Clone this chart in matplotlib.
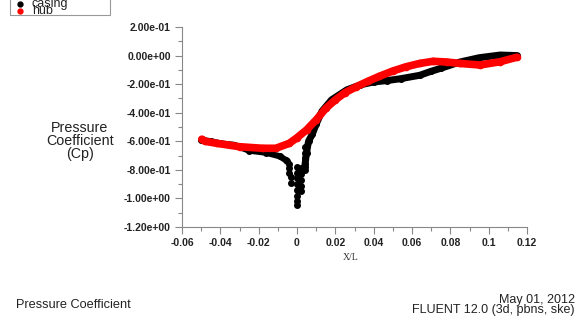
import matplotlib
matplotlib.use("Agg")
import matplotlib.pyplot as plt
from matplotlib.patches import Rectangle
from matplotlib.ticker import MultipleLocator

# ---- data ----
series_names = ["casing", "hub"]

casing_x = [-0.050, -0.045, -0.040, -0.033, -0.025, -0.016, -0.009, -0.006]
casing_y = [-0.590, -0.600, -0.615, -0.625, -0.665, -0.680, -0.705, -0.730]

casing_rise_x = [0.004, 0.005, 0.006, 0.008, 0.010, 0.013, 0.018, 0.026, 0.033,
                 0.040, 0.047, 0.054, 0.064, 0.070, 0.075, 0.085, 0.095, 0.106, 0.115]
casing_rise_y = [-0.780, -0.680, -0.600, -0.550, -0.480, -0.390, -0.310, -0.240, -0.205,
                 -0.185, -0.175, -0.162, -0.138, -0.110, -0.089, -0.045, -0.015, 0.004, 0.000]

casing_dip_x = [-0.005, -0.004, -0.004, -0.004, -0.003, -0.003,
                0.000, 0.000, 0.000, 0.000, 0.000, 0.000, 0.000, 0.000,
                0.002, 0.002, 0.002, 0.002, 0.002,
                0.004, 0.004, 0.004, 0.004, 0.004]
casing_dip_y = [-0.740, -0.760, -0.790, -0.820, -0.850, -0.890,
                -0.780, -0.820, -0.860, -0.900, -0.940, -0.980, -1.020, -1.045,
                -0.790, -0.830, -0.870, -0.910, -0.950,
                -0.640, -0.680, -0.720, -0.760, -0.800]

hub_x = [-0.0497, -0.048, -0.042, -0.030, -0.018, -0.011, -0.004, 0.000, 0.005, 0.010,
         0.015, 0.020, 0.025, 0.031, 0.037, 0.043, 0.050, 0.057, 0.064, 0.071,
         0.078, 0.085, 0.0955, 0.106, 0.1146]
hub_y = [-0.586, -0.600, -0.614, -0.638, -0.649, -0.649, -0.614, -0.575, -0.520, -0.450,
         -0.370, -0.310, -0.260, -0.218, -0.180, -0.145, -0.108, -0.078, -0.055, -0.040,
         -0.045, -0.055, -0.066, -0.043, -0.012]

x_ticks = [-0.06, -0.04, -0.02, 0, 0.02, 0.04, 0.06, 0.08, 0.1, 0.12]
x_tick_labels = ["-0.06", "-0.04", "-0.02", "0", "0.02", "0.04", "0.06", "0.08", "0.1", "0.12"]
y_ticks = [-1.2, -1.0, -0.8, -0.6, -0.4, -0.2, 0.0, 0.2]
y_tick_labels = ["-1.20e+00", "-1.00e+00", "-8.00e-01", "-6.00e-01", "-4.00e-01",
                 "-2.00e-01", "0.00e+00", "2.00e-01"]

colors = {"casing": "#000000", "hub": "#ff0000"}

# ---- figure ----
W, H = 580, 324
fig = plt.figure(figsize=(W / 100, H / 100), dpi=100)
ax = fig.add_axes([182 / W, 1 - 227 / H, (527 - 182) / W, (227 - 27) / H])

sans = "Liberation Sans"

# casing
ax.plot(casing_x, casing_y, color=colors["casing"], lw=4.5, solid_capstyle="round",
        marker="o", ms=4, zorder=2)
ax.plot(casing_rise_x, casing_rise_y, color=colors["casing"], lw=5, solid_capstyle="round",
        marker="o", ms=4, zorder=2)
ax.plot(casing_dip_x, casing_dip_y, ls="none", color=colors["casing"], marker="o", ms=4,
        zorder=2)
# hub
ax.plot(hub_x, hub_y, color=colors["hub"], lw=5.5, solid_capstyle="round",
        marker="o", ms=4.5, zorder=3)

ax.set_xlim(-0.06, 0.12)
ax.set_ylim(-1.2, 0.2)
ax.set_xticks(x_ticks)
ax.set_xticklabels(x_tick_labels)
ax.set_yticks(y_ticks)
ax.set_yticklabels(y_tick_labels)
ax.xaxis.set_minor_locator(MultipleLocator(0.01))
ax.yaxis.set_minor_locator(MultipleLocator(0.1))

for s in ["top", "right"]:
    ax.spines[s].set_visible(False)
for s in ["left", "bottom"]:
    ax.spines[s].set_color("#888888")
    ax.spines[s].set_linewidth(0.8)

ax.tick_params(which="major", direction="out", length=5, width=0.8, color="#888888",
               labelsize=7.5, labelcolor="#222222", pad=3)
ax.tick_params(which="minor", direction="out", length=3, width=0.8, color="#888888")
for lab in ax.get_xticklabels() + ax.get_yticklabels():
    lab.set_fontfamily(sans)
    lab.set_fontweight("bold")

# axis labels
fig.text(80 / W, 1 - 141 / H, "Pressure\nCoefficient\n(Cp)", ha="center", va="center",
         fontsize=10.3, family=sans, color="#222222", linespacing=0.92)
fig.text(351 / W, 1 - 258 / H, "X/L", ha="center", va="center", fontsize=7,
         family="Liberation Serif", color="#333333")

# footer
fig.text(16 / W, 1 - 304.5 / H, "Pressure Coefficient", ha="left", va="center",
         fontsize=9.2, family=sans, color="#222222")
fig.text(575 / W, 1 - 300.5 / H, "May 01, 2012", ha="right", va="center",
         fontsize=9, family=sans, color="#222222")
fig.text(575 / W, 1 - 310.5 / H, "FLUENT 12.0 (3d, pbns, ske)", ha="right", va="center",
         fontsize=9, family=sans, color="#222222")

# legend box
fig.patches.append(Rectangle((10 / W, 1 - 15 / H), 100 / W, 25 / H, transform=fig.transFigure,
                             fill=False, edgecolor="#999999", lw=0.8))
fig.lines.append(plt.Line2D([20 / W], [1 - 3.5 / H], transform=fig.transFigure, marker="o",
                            ms=3.5, color=colors["casing"], ls="none"))
fig.lines.append(plt.Line2D([20 / W], [1 - 10.5 / H], transform=fig.transFigure, marker="o",
                            ms=3.5, color=colors["hub"], ls="none"))
fig.text(32 / W, 1 - 4 / H, series_names[0], ha="left", va="center", fontsize=9,
         family=sans, color="#222222")
fig.text(32 / W, 1 - 11 / H, series_names[1], ha="left", va="center", fontsize=9,
         family=sans, color="#222222")

fig.savefig("out.png", dpi=100, facecolor="white")
